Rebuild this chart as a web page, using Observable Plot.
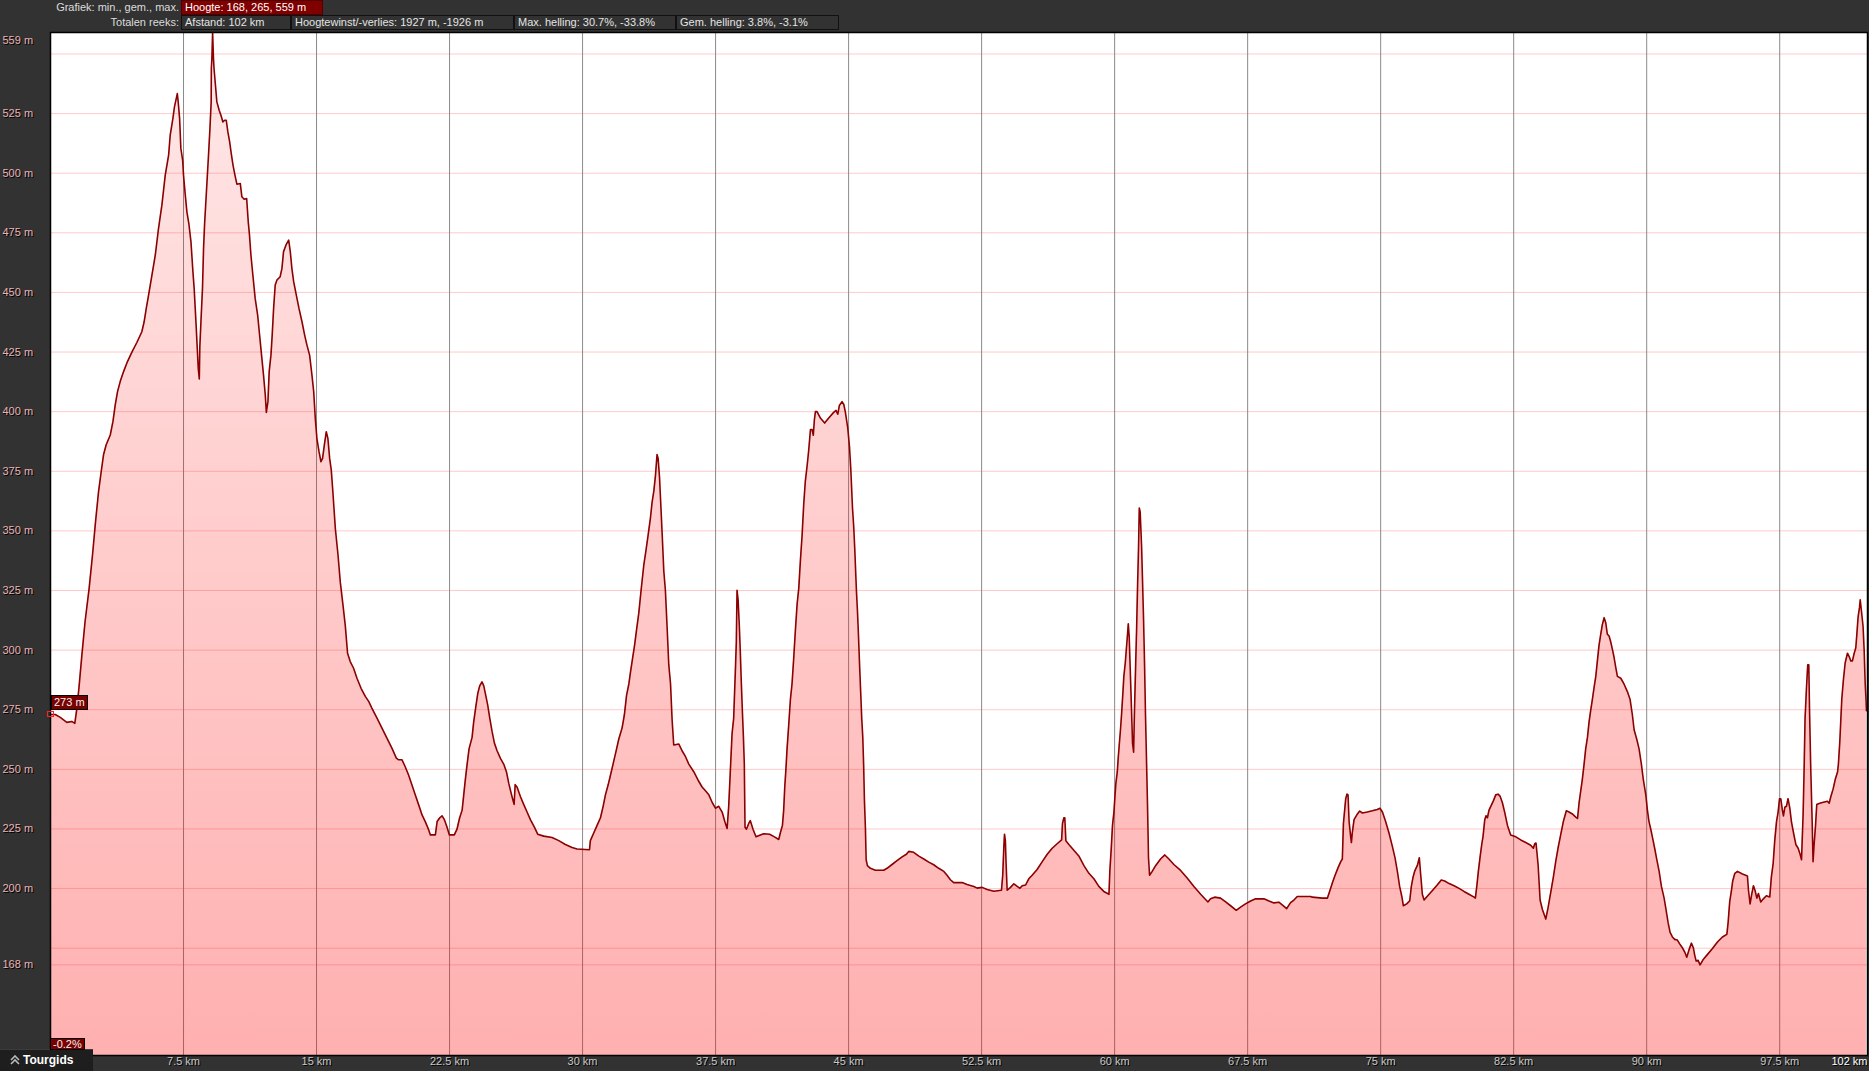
<!DOCTYPE html>
<html>
<head>
<meta charset="utf-8">
<script src="https://cdn.jsdelivr.net/npm/d3@7"></script>
<script src="https://cdn.jsdelivr.net/npm/@observablehq/plot@0.6"></script>
<style>
  html, body { margin: 0; padding: 0; background: #323232; width: 1869px; height: 1071px; overflow: hidden;
    font-family: "Liberation Sans", Arial, sans-serif; font-size: 11px; color: #ddd; }
  #header { position: absolute; left: 0; top: 0; width: 1869px; height: 31px; }
  .row { position: absolute; left: 0; height: 15px; display: flex; }
  .lbl { width: 179px; padding-right: 2px; text-align: right; line-height: 15px; color: #dcdcdc; white-space: nowrap; }
  .box { box-sizing: border-box; height: 15px; line-height: 13px; padding-left: 3px; border: 1px solid #111;
    color: #e4e4e4; white-space: nowrap; overflow: hidden; }
  .box.red { background: #800000; border-color: #500000; color: #fff; }
  #chart { position: absolute; left: 0; top: 30px; }
  #chart text { text-shadow: 1px 1px 0 #000; }
  .tag { position: absolute; box-sizing: border-box; background: #7a0000; border: 1px solid #000; color: #f0f0f0;
    font-size: 11px; line-height: 13px; padding: 0 2px; white-space: nowrap; }
  #marker { position: absolute; box-sizing: border-box; width: 7px; height: 6px; border: 1px solid #ff2020; }
  #tourgids { position: absolute; left: 0; top: 1049px; width: 93px; height: 22px; background: #1e1e1e;
    border-top: 1px solid #3c3c3c; box-sizing: border-box; color: #fff; font-weight: bold; font-size: 12px;
    line-height: 20px; padding-left: 23px; }
  #tourgids svg { position: absolute; left: 10px; top: 5px; }
</style>
</head>
<body>
<div id="header"></div>
<div id="chart"></div>
<div id="tourgids"><svg width="10" height="10" viewBox="0 0 10 10"><path d="M1 5 L5 1 L9 5 M1 9 L5 5 L9 9" stroke="#bbb" stroke-width="1.6" fill="none"/></svg>Tourgids</div>
<script>
// ---------- data ----------
const distanceKm = [
0.00,0.27,0.55,0.92,1.20,1.37,1.49,1.62,1.77,1.95,2.18,2.37,2.54,2.71,2.86,2.99,3.14,
3.37,3.52,3.65,3.78,3.93,4.12,4.34,4.59,4.87,5.15,5.28,5.40,5.53,5.72,5.91,6.09,6.28,6.47,6.66,6.75,6.90,6.99,7.09,7.15,7.20,7.28,7.35,7.45,7.50,7.60,7.69,7.80,7.92,8.03,8.10,8.16,8.22,8.27,8.33,8.39,8.42,8.50,8.57,8.63,8.69,8.76,8.84,8.91,8.99,9.06,9.07,9.10,9.14,9.19,9.22,9.38,9.51,9.61,9.72,9.82,9.91,10.00,10.10,10.19,10.29,10.40,10.51,10.70,10.79,10.92,11.06,11.15,11.22,11.30,11.41,11.54,11.68,11.79,11.90,12.01,12.11,12.17,12.26,12.33,12.43,12.50,12.58,12.67,12.77,12.95,13.05,13.14,13.28,13.43,13.52,13.61,13.71,13.86,14.01,14.18,14.33,14.46,14.61,14.74,14.84,14.93,15.02,15.14,15.25,15.34,15.44,15.55,15.64,15.74,15.83,
15.92,16.06,16.21,16.34,16.49,16.62,16.75,16.90,17.09,17.28,17.51,17.75,17.94,18.12,18.41,18.69,18.97,19.25,19.50,19.63,19.82,20.00,20.19,20.38,20.57,20.76,20.95,21.13,21.32,
21.42,21.70,21.80,21.95,22.08,22.21,22.36,22.49,22.77,22.92,23.07,23.21,23.30,23.39,23.49,23.60,23.77,23.86,23.98,24.09,24.20,24.33,24.43,24.54,24.65,24.77,24.90,25.03,25.18,25.37,25.56,25.71,25.84,25.97,26.08,26.14,26.20,26.31,26.50,26.68,26.87,27.06,27.29,27.47,27.81,28.28,28.66,29.03,29.41,29.69,30.39,30.44,30.63,30.82,31.01,31.16,31.29,31.44,31.57,31.72,31.87,32.04,32.23,32.36,32.48,32.61,32.70,32.83,32.93,33.04,33.17,33.30,33.45,33.58,33.70,33.83,33.92,34.02,34.11,34.20,34.26,34.34,34.39,34.49,34.58,34.67,34.77,34.86,34.96,35.05,35.14,35.43,35.61,35.80,35.99,36.27,36.55,36.74,36.93,37.12,37.31,37.49,37.68,37.87,38.02,38.15,
38.24,38.33,38.43,38.52,38.62,38.67,38.71,38.77,38.84,38.90,38.95,39.01,39.07,39.12,39.16,39.24,39.37,39.46,39.61,39.78,40.03,40.21,40.55,40.82,41.06,41.15,41.27,41.34,41.40,41.47,41.53,41.62,41.72,41.81,41.91,42.00,42.10,42.19,42.28,42.38,42.47,42.56,42.66,42.75,42.85,42.94,43.01,43.07,43.13,43.22,43.41,43.65,43.88,44.16,44.29,44.39,44.48,44.63,44.73,44.82,44.95,45.05,45.12,45.22,45.29,45.35,45.44,45.50,45.55,45.61,45.68,45.74,45.80,45.85,45.89,45.95,45.99,46.06,46.23,46.51,46.98,47.17,47.45,47.73,48.02,48.26,48.39,48.67,48.96,49.24,49.52,49.80,50.08,50.37,50.55,50.74,50.93,51.40,51.68,52.06,52.25,52.53,52.81,53.19,53.62,53.69,53.75,53.79,53.84,53.88,53.94,
54.13,54.32,54.51,54.66,54.79,54.98,55.16,55.35,55.63,55.92,56.20,56.48,56.76,57.01,57.06,57.14,57.19,57.25,57.42,57.70,57.98,58.27,58.55,58.83,59.11,59.39,59.68,59.73,59.81,59.88,59.96,60.01,60.07,60.15,60.20,60.26,60.33,60.39,60.47,60.52,60.60,60.65,60.71,60.77,60.82,60.90,60.95,61.01,61.07,61.12,61.18,61.24,61.29,61.35,61.39,61.44,61.52,61.57,61.63,61.69,61.74,61.80,61.86,61.91,61.97,62.12,62.31,62.59,62.83,63.06,63.34,63.72,64.09,64.47,64.85,65.26,65.41,65.64,65.97,66.26,66.54,66.86,67.10,67.38,67.67,67.95,68.42,68.70,68.98,69.26,69.45,69.70,69.92,70.11,70.30,71.05,
71.15,71.71,72.00,72.14,72.28,72.43,72.60,72.75,72.84,72.90,72.97,73.03,73.10,73.16,73.22,73.31,73.35,73.40,73.50,73.69,73.82,73.97,74.25,74.53,74.81,74.96,75.10,75.28,75.47,75.66,75.81,75.94,76.07,76.19,76.28,76.47,76.64,76.73,76.83,76.92,77.07,77.18,77.26,77.35,77.45,77.63,77.92,78.20,78.42,78.61,78.86,79.14,79.42,79.70,79.98,80.27,80.34,80.42,80.51,80.60,80.70,80.77,80.87,80.94,81.02,81.11,81.21,81.36,81.49,81.62,81.73,81.86,81.99,82.15,82.33,82.62,82.90,83.18,83.46,83.61,83.69,83.76,83.88,83.99,84.12,84.31,84.44,84.59,84.74,84.87,85.00,85.15,85.30,85.47,85.62,85.81,86.00,86.10,86.19,
86.37,86.47,86.56,86.66,86.75,86.84,86.94,87.03,87.13,87.22,87.31,87.41,87.50,87.60,87.69,87.78,87.88,87.97,88.07,88.16,88.25,88.35,88.54,88.72,88.91,89.06,89.19,89.29,89.44,89.57,89.70,89.81,89.95,90.04,90.13,90.23,90.32,90.45,90.57,90.70,90.83,90.98,91.09,91.21,91.32,91.45,91.58,91.73,91.86,92.01,92.15,92.26,92.39,92.52,92.63,92.71,92.79,92.90,93.01,93.20,93.42,93.71,93.99,94.27,94.52,94.59,94.68,94.78,94.85,94.97,95.12,95.40,95.68,95.74,95.83,95.92,96.02,96.11,96.21,96.30,96.43,96.58,96.75,96.94,97.03,97.13,97.22,97.32,97.41,97.49,97.56,97.65,97.71,97.79,97.88,97.97,98.07,98.16,98.28,98.41,98.54,98.65,98.73,98.82,98.88,98.93,99.01,99.08,99.14,99.18,99.25,99.33,99.38,99.44,99.52,99.59,99.72,99.91,100.19,100.29,100.38,100.51,100.63,100.76,100.81,100.89,100.94,101.00,101.09,101.19,101.32,101.41,101.51,101.60,101.70,101.79,101.85,101.92,102.00,102.04,102.11,102.20,102.26,102.32,102.36,102.39
];
const elevationM = [
273,273,271.8,269.7,270.1,269.3,275.7,285.4,298,312,326,340,353.9,366.5,374.9,381.9,386.1,
390.2,395.8,402.8,408.4,412.6,416.8,421,425,429,433.5,437.7,443.3,448.9,457.3,465.7,476.8,486.6,499.2,507.6,516,522.9,527.8,531.3,533.4,529.9,522.9,510.4,505.5,499.2,490.8,483.8,478.9,471.2,458.7,451.7,443.3,434.9,427.2,418.2,413.7,427.2,440.5,451.7,468.5,478.9,488,498.5,507.6,518.7,529.9,543.9,548.1,559,548.1,543.9,529.9,526.4,524.3,521.5,522.2,522.2,517.3,513.2,508.3,503.4,499.2,495.4,495.7,490.1,489.1,489.4,479.6,474,465.7,457.3,447.5,440.5,432.1,423.7,415.4,407,399.7,404.2,416.8,423.7,432.1,443.3,453.1,455.2,456.6,460.1,467.1,469.9,471.9,467.1,460.1,454.5,448.9,443.3,437.7,432.1,427.9,423.7,415.4,408.4,397.2,388.8,383.2,379,380.4,386,391.6,388.8,380.4,375.6,
366.5,351,340,328.5,319,310.4,298.7,295.2,292.4,288.2,284,280.6,278.5,275.7,271.5,267.3,263.1,258.9,254.7,254,254,251.1,247.6,243.4,239.2,235.1,230.9,228.1,224.7,
222.5,222.5,228.1,229.7,230.5,228.9,225.7,222.5,222.5,224.9,229.7,232.9,239.3,245.7,252.1,258.6,263.4,269.8,276.2,281.8,285,286.7,285,281,277,271.4,265.8,261,257.8,254.6,252.1,248.9,244.1,240.1,236.9,235.3,243.6,242.5,238.5,235.3,232.1,228.9,225.7,222.8,222,221.4,220.1,218.5,217.2,216.6,216.3,220.1,223.3,226.5,229.7,234.5,239.3,243.4,247.4,252.2,257,262.6,267.4,273,281,285.8,290.7,297.1,301.9,308.3,315.5,325.1,335.5,342,348.4,355.6,362,366.8,373.2,382,380.4,372.4,364.4,348.4,333.2,325.1,309.1,293.9,285.9,270.6,260.2,260.6,257.8,255.4,252.2,249,245,242.6,241,239.3,236.1,233.7,234.5,232.1,228.1,225.2,
234.5,249,265,271.4,292.3,303.5,325.1,321.1,309.9,297.9,286.6,274.6,263.4,252.2,225.7,224.9,227.3,228.5,224.9,221.7,222.5,223,222.8,221.7,220.6,223.3,226.5,232.9,242.5,250.5,258.6,268.2,279.4,285.8,297.1,308.3,319.5,325.9,337.2,348.4,361.2,370.8,377.2,383.7,392.5,392.5,390.1,396.5,400,400,397.3,395.2,397.3,399.7,400.5,398.9,402.6,404.2,403,399.7,393.3,385.3,376.5,359.6,351.6,342,325.1,316.3,307.5,295.5,282.6,271.4,263.4,251.3,237.7,224.9,212.1,209.6,208.5,207.7,207.7,208.5,210.1,211.7,213.3,214.4,215.6,215.2,213.6,212.4,211.1,210,208.5,207.2,205.6,203.7,202.5,202.5,201.7,200.9,200.2,200.5,199.6,198.9,199.3,205.6,216.9,222.8,220.1,210.5,199.3,
200.5,202,200.9,200.1,201.2,201.5,204.1,205.6,208,211.3,214.4,216.9,218.8,220.4,227.3,229.7,229.7,220.1,218.5,216.1,213.7,209.6,206.4,204.1,200.9,198.8,197.6,207.3,216.9,226.5,232.1,237.7,244.1,248.9,254.5,260.2,266.6,273,282.6,289,294.6,299.4,305,311,305.8,287.4,275.4,260.9,257.2,274.6,292.3,309.1,325.9,343.5,359.6,358,343.5,329.9,313.1,293.1,273,253,232.9,212.9,205.6,207.2,209.6,212.4,214.1,212.4,210.1,207.6,204.4,200.9,197.6,194.4,195.7,196.4,196,194.4,192.8,190.9,192.2,193.6,194.8,195.7,195.7,194.8,194,194.3,193.2,191.6,194.1,195.2,196.7,196.7,
196.4,196,196,199.2,202.4,205.6,208.8,211.3,212.4,227.3,232.9,237.7,239.6,239.3,228.1,221.7,219.3,223.3,228.9,231.3,232.5,231.7,232.1,232.6,233.2,233.7,232.1,228.1,223.3,217.7,212.9,207.3,200.9,196.8,192.8,193.6,194.9,200.9,204.9,207.3,209.7,212.9,205.6,197.6,195.2,196.8,199.2,201.6,203.6,203.2,202.1,201.2,200.1,198.8,197.6,196.4,196,200.9,207.3,212.9,218.5,221.7,228.9,230.5,229.7,232.9,234.5,236.9,239.3,239.6,238.8,236.1,232.1,226.5,222.5,221.7,220.4,219.3,218.2,216.9,218.8,219.1,209.7,195.2,191.2,187.2,192,198.4,204.9,211.3,216.9,222.5,228.1,232.6,232.1,231.3,230,229.4,236.1,
245.7,252.2,258.6,263.4,269.8,274.6,279.4,284.2,289,295.5,301.9,306.7,310.7,313.6,311.5,306.7,305.9,303.5,300.2,297,293,289,288.2,285.8,282.6,279.4,273,266.6,262.6,258.6,252.2,245.7,239.3,232.9,228.1,224.9,221.7,216.9,212.1,207.3,200.9,196.1,191.2,185.6,181.6,179.7,178.7,178.4,176.8,175.2,173.3,171.2,174.4,177.1,175.2,172,169.6,169.9,168,170.4,172.3,174.9,177.6,179.7,180.8,185.6,194.4,199.2,203.2,206.4,207.2,206.1,205.3,199.2,193.6,197.6,201.2,199.2,196,197.9,194.4,195.7,197,196.5,204.9,210.5,220.1,228.1,232.1,237.7,237.7,232.9,230.5,234.1,234.5,237.7,233.7,228.1,223.3,218.5,216.9,214.4,212.1,231.3,251.4,271.4,284.2,293.8,293.8,275.4,250.5,228.1,211.3,218.5,226.5,235.3,235.7,236.1,236.6,235.8,238.5,241.7,245.7,248.9,252.2,261.8,269.8,279.4,287.4,294.6,298.7,297.4,295.5,295.5,298.7,301,306.7,313.9,317.9,321.1,316.3,309.9,300.2,285.8,280.2,274.6
];
const xTickKm = [7.5, 15, 22.5, 30, 37.5, 45, 52.5, 60, 67.5, 75, 82.5, 90, 97.5];
const yGridM = [168, 175, 200, 225, 250, 275, 300, 325, 350, 375, 400, 425, 450, 475, 500, 525, 550];
const yLabelM = [168, 200, 225, 250, 275, 300, 325, 350, 375, 400, 425, 450, 475, 500, 525];
const yMaxLabelM = [559];
const totalDistanceLabel = "102 km";
const startSlopeLabel = "-0.2%";
const headerRow1Label = "Grafiek: min., gem., max.";
const headerRow1Boxes = ["Hoogte: 168, 265, 559 m"];
const headerRow2Label = "Totalen reeks:";
const headerRow2Boxes = ["Afstand: 102 km", "Hoogtewinst/-verlies: 1927 m, -1926 m", "Max. helling: 30.7%, -33.8%", "Gem. helling: 3.8%, -3.1%"];
const headerRow2Widths = [110, 223, 162, 163];

// ---------- header ----------
const header = document.getElementById("header");
function makeRow(top, label, boxes, widths, red) {
  const row = document.createElement("div");
  row.className = "row"; row.style.top = top + "px";
  const l = document.createElement("div"); l.className = "lbl"; l.textContent = label; row.appendChild(l);
  boxes.forEach((b, i) => {
    const d = document.createElement("div");
    d.className = "box" + (red ? " red" : "");
    d.style.width = widths[i] + "px";
    d.textContent = b; row.appendChild(d);
  });
  header.appendChild(row);
}
makeRow(0, headerRow1Label, headerRow1Boxes, [142], true);
makeRow(15, headerRow2Label, headerRow2Boxes, headerRow2Widths, false);

// ---------- chart ----------
const profile = distanceKm.map((km, i) => ({km, elev: elevationM[i]}));
const xDomain = [0, 102.45];
const yDomain = [130, 559];

const plot = Plot.plot({
  width: 1869,
  height: 1041,
  marginTop: 2,
  marginLeft: 50,
  marginRight: 2,
  marginBottom: 16,
  style: {background: "transparent", fontFamily: "'Liberation Sans', Arial, sans-serif", fontSize: "11px", overflow: "visible"},
  x: {domain: xDomain, axis: null},
  y: {domain: yDomain, axis: null},
  marks: [
    Plot.frame({fill: "white", stroke: "none"}),
    Plot.ruleY(yGridM, {stroke: "#ffcaca", strokeWidth: 1}),
    Plot.ruleX(xTickKm, {stroke: "#8a8a8a", strokeWidth: 1}),
    Plot.areaY(profile, {x: "km", y1: yDomain[0], y2: "elev", fill: "url(#elevFill)"}),
    Plot.lineY(profile, {x: "km", y: "elev", stroke: "#8b0000", strokeWidth: 1.6}),
    Plot.frame({stroke: "#000", strokeWidth: 1.5}),
    Plot.text(yLabelM, {y: d => d, text: d => `${d} m`, frameAnchor: "left", dx: -48, textAnchor: "start", fill: "#eab4b4"}),
    Plot.text(yMaxLabelM, {y: d => d, text: d => `${d} m`, frameAnchor: "left", dx: -48, dy: 7.5, textAnchor: "start", fill: "#eab4b4"}),
    Plot.text(xTickKm, {x: d => d, text: d => `${d} km`, frameAnchor: "bottom", dy: 9, fill: "#c8c8c8"}),
    Plot.text([xDomain[1]], {x: d => d, text: () => totalDistanceLabel, frameAnchor: "bottom", dy: 9, textAnchor: "end", fill: "#ffffff"})
  ]
});

// gradient definition for the area fill
const ns = "http://www.w3.org/2000/svg";
const defs = document.createElementNS(ns, "defs");
const grad = document.createElementNS(ns, "linearGradient");
grad.setAttribute("id", "elevFill");
grad.setAttribute("gradientUnits", "userSpaceOnUse");
grad.setAttribute("x1", "0"); grad.setAttribute("x2", "0");
grad.setAttribute("y1", "2"); grad.setAttribute("y2", "1025");
[[0, 0.09], [0.5, 0.2], [1, 0.31]].forEach(([o, a]) => {
  const s = document.createElementNS(ns, "stop");
  s.setAttribute("offset", o); s.setAttribute("stop-color", "#ff0000"); s.setAttribute("stop-opacity", a);
  grad.appendChild(s);
});
defs.appendChild(grad);
plot.insertBefore(defs, plot.firstChild);
document.getElementById("chart").appendChild(plot);

// overlays anchored with the plot's scales
const sx = plot.scale("x"), sy = plot.scale("y");
const top0 = 30;
const px = sx.apply(distanceKm[0]);
const py = sy.apply(elevationM[0]) + top0;
const startTag = document.createElement("div");
startTag.className = "tag";
startTag.textContent = `${Math.round(elevationM[0])} m`;
startTag.style.left = (px + 1) + "px";
startTag.style.top = (py - 19.5) + "px";
startTag.style.height = "15px";
startTag.style.lineHeight = "13px";
document.body.appendChild(startTag);

const marker = document.createElement("div");
marker.id = "marker";
marker.style.left = (px - 3.5) + "px";
marker.style.top = (py - 3) + "px";
document.body.appendChild(marker);

const slopeTag = document.createElement("div");
slopeTag.className = "tag";
slopeTag.textContent = startSlopeLabel;
slopeTag.style.left = px + "px";
slopeTag.style.top = (sy.apply(yDomain[0]) + top0 - 17) + "px";
slopeTag.style.height = "12px";
slopeTag.style.lineHeight = "10px";
document.body.appendChild(slopeTag);
</script>
</body>
</html>
